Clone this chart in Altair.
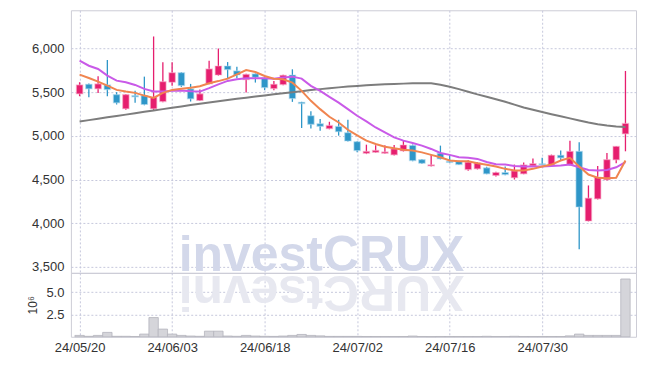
import altair as alt
import pandas as pd

dates = ['24/05/20','24/05/21','24/05/22','24/05/23','24/05/24','24/05/27','24/05/28','24/05/29','24/05/30','24/05/31',
         '24/06/03','24/06/04','24/06/05','24/06/07','24/06/10','24/06/11','24/06/12','24/06/13','24/06/14','24/06/17',
         '24/06/18','24/06/19','24/06/20','24/06/21','24/06/24','24/06/25','24/06/26','24/06/27','24/06/28','24/07/01',
         '24/07/02','24/07/03','24/07/04','24/07/05','24/07/08','24/07/09','24/07/10','24/07/11','24/07/12','24/07/15',
         '24/07/16','24/07/17','24/07/18','24/07/19','24/07/22','24/07/23','24/07/24','24/07/25','24/07/26','24/07/29',
         '24/07/30','24/07/31','24/08/01','24/08/02','24/08/05','24/08/06','24/08/07','24/08/08','24/08/09','24/08/12']

opens = [5480,5591,5538,5583,5473,5310,5461,5461,5310,5393,
         5614,5723,5538,5405,5595,5697,5800,5743,5644,5709,
         5664,5541,5587,5697,5385,5230,5139,5082,5108,5036,
         4933,4800,4811,4800,4782,4827,4891,4728,4655,4800,
         4708,4709,4614,4622,4634,4546,4580,4520,4565,4656,
         4680,4667,4778,4667,4823,4025,4278,4497,4725,5022]
highs = [5614,5600,5682,5868,5500,5480,5515,5678,6138,5842,
         5842,5730,5595,5530,5860,6000,5845,5792,5710,5715,
         5670,5629,5700,5762,5390,5283,5192,5161,5184,5184,
         4940,4899,4891,4891,4895,4952,4900,4735,4782,4888,
         4782,4715,4720,4700,4645,4590,4648,4671,4694,4740,
         4748,4785,4831,4945,4926,4432,4656,4804,4885,5743]
lows = [5454,5443,5492,5454,5359,5300,5378,5350,5290,5385,
        5575,5560,5393,5400,5590,5690,5648,5660,5496,5610,
        5523,5523,5580,5389,5090,5085,5059,5075,5002,4935,
        4811,4791,4805,4795,4775,4820,4710,4680,4648,4730,
        4690,4665,4600,4615,4560,4535,4550,4500,4560,4650,
        4668,4660,4717,4660,3700,4020,4270,4490,4686,4823]
closes = [5583,5538,5595,5530,5378,5473,5446,5359,5443,5621,
          5723,5575,5424,5481,5766,5800,5758,5697,5705,5671,
          5552,5591,5694,5427,5370,5131,5108,5119,5047,4941,
          4831,4823,4834,4816,4850,4895,4716,4686,4668,4736,
          4695,4671,4698,4690,4565,4580,4557,4599,4667,4682,
          4670,4778,4748,4823,4185,4287,4527,4728,4880,5142]
# volume in millions of shares
volumes = [0.15,0.05,0.15,0.49,0.05,0.05,0.03,0.30,2.16,0.86,
           0.30,0.15,0.08,0.05,0.63,0.63,0.08,0.05,0.15,0.08,
           0.05,0.04,0.08,0.15,0.26,0.15,0.10,0.04,0.04,0.04,
           0.04,0.03,0.03,0.03,0.03,0.03,0.08,0.03,0.02,0.03,
           0.03,0.03,0.03,0.03,0.05,0.03,0.03,0.05,0.03,0.03,
           0.03,0.03,0.03,0.10,0.30,0.15,0.15,0.15,0.15,6.50]
ma_short = [5701,5663,5621,5575,5526,5507,5492,5461,5435,5492,
            5526,5538,5552,5568,5603,5627,5655,5705,5754,5731,
            5686,5655,5648,5609,5515,5401,5306,5218,5153,5070,
            5006,4945,4907,4876,4857,4842,4831,4811,4782,4754,
            4717,4709,4709,4686,4669,4648,4622,4603,4603,4622,
            4648,4671,4717,4748,4648,4557,4520,4515,4520,4717]
ma_mid = [5860,5803,5766,5689,5632,5614,5583,5538,5507,5507,
          5515,5519,5511,5507,5546,5590,5629,5648,5660,5660,
          5660,5655,5667,5678,5655,5572,5515,5446,5381,5306,
          5230,5165,5096,5039,4982,4945,4918,4888,4850,4804,
          4782,4754,4748,4736,4700,4676,4671,4656,4648,4648,
          4648,4656,4660,4671,4640,4610,4603,4610,4640,4698]
ma_long = [5165,5180,5196,5212,5228,5243,5259,5275,5290,5306,
           5321,5337,5352,5367,5382,5396,5410,5424,5437,5450,
           5463,5476,5488,5500,5512,5524,5535,5545,5555,5564,
           5572,5578,5584,5590,5594,5598,5601,5603,5602,5585,
           5562,5535,5505,5475,5448,5420,5390,5358,5325,5298,
           5272,5248,5225,5200,5175,5152,5133,5118,5106,5100]

tick_idx = [0, 10, 20, 30, 40, 50]
price_ticks = [3500, 4000, 4500, 5000, 5500, 6000]
vol_ticks = [2.5, 5.0]
watermark = "investCRUX"

n = len(dates)
df = pd.DataFrame({
    "i": list(range(n)), "date": dates,
    "open": opens, "high": highs, "low": lows, "close": closes,
    "vol": volumes, "ma_s": ma_short, "ma_m": ma_mid, "ma_l": ma_long,
})
df["dir"] = ["up" if c >= o else "down" for o, c in zip(opens, closes)]

UP, DOWN = "#e61e6e", "#2e96c8"
W, H_MAIN, H_VOL = 566, 263, 64

x_scale = alt.Scale(domain=[-0.4, n - 0.4], nice=False, zero=False)
y_scale = alt.Scale(domain=[3431, 6438], nice=False, zero=False)
label_expr = "[" + ",".join("'%s'" % d for d in dates) + "][datum.value]"

grid = dict(grid=True, gridColor="#c6c8dc", gridDash=[2, 2], gridWidth=1,
            ticks=False, domain=False)

x_main = alt.X("i:Q", scale=x_scale, title=None,
               axis=alt.Axis(values=tick_idx, labels=False, **grid))
y_main = alt.Y("low:Q", scale=y_scale, title=None,
               axis=alt.Axis(values=price_ticks, format=",.0f", labelPadding=7, **grid))
dir_color = alt.Color("dir:N", scale=alt.Scale(domain=["up", "down"], range=[UP, DOWN]), legend=None)

base = alt.Chart(df)

wm = alt.Chart(pd.DataFrame({"t": [watermark]})).mark_text(
    font="Liberation Sans", fontWeight="bold", fontSize=50, color="#d3d8ea",
    align="center", baseline="alphabetic"
).encode(x=alt.value(251), y=alt.value(261), text="t:N")

wicks = base.mark_rule(strokeWidth=1.3).encode(x=x_main, y=y_main, y2="high:Q", color=dir_color)
bodies = base.mark_bar(size=6.5, strokeWidth=1.2, strokeOpacity=0.55).encode(
    x="i:Q", y="open:Q", y2="close:Q", color=dir_color,
    stroke=alt.Stroke("dir:N", scale=alt.Scale(domain=["up", "down"], range=["#f7b3cd", "#b3dbef"]), legend=None),
)
line_l = base.mark_line(color="#7d7d7d", strokeWidth=2).encode(x="i:Q", y="ma_l:Q")
line_m = base.mark_line(color="#c95ae8", strokeWidth=2).encode(x="i:Q", y="ma_m:Q")
line_s = base.mark_line(color="#f08550", strokeWidth=2).encode(x="i:Q", y="ma_s:Q")

main = alt.layer(wm, wicks, bodies, line_l, line_m, line_s).properties(width=W, height=H_MAIN)

refl = alt.Chart(pd.DataFrame({"t": [watermark[::-1]]})).mark_text(
    font="Liberation Sans", fontWeight="bold", fontSize=50, color="#e7e8f0",
    align="center", baseline="alphabetic", angle=180
).encode(x=alt.value(251), y=alt.value(3), text="t:N")

vol_bars = base.mark_bar(size=9.4, fill="#d5d5da", stroke="#b4b4bc", strokeWidth=0.8).encode(
    x=alt.X("i:Q", scale=x_scale, title=None,
            axis=alt.Axis(values=tick_idx, labelExpr=label_expr, labelPadding=5, **grid)),
    y=alt.Y("vol:Q", scale=alt.Scale(domain=[0, 7.19], nice=False),
            axis=alt.Axis(values=vol_ticks, format=".1f", labelPadding=7, title="10⁶",
                          titlePadding=6, titleFontWeight="normal", titleFontSize=12,
                          titleColor="#333", titleFont="Liberation Sans", **grid)),
)
volume = alt.layer(refl, vol_bars).properties(width=W, height=H_VOL)

chart = alt.vconcat(main, volume, spacing=0, bounds="flush").properties(
    padding={"left": 18, "top": 1, "right": 0, "bottom": 0}
).configure_view(stroke="#cdcdd6").configure_axis(
    labelFont="Liberation Sans", labelFontSize=13, labelColor="#333333"
)

chart.save("out.html", embed_options={"renderer": "svg", "actions": False})
